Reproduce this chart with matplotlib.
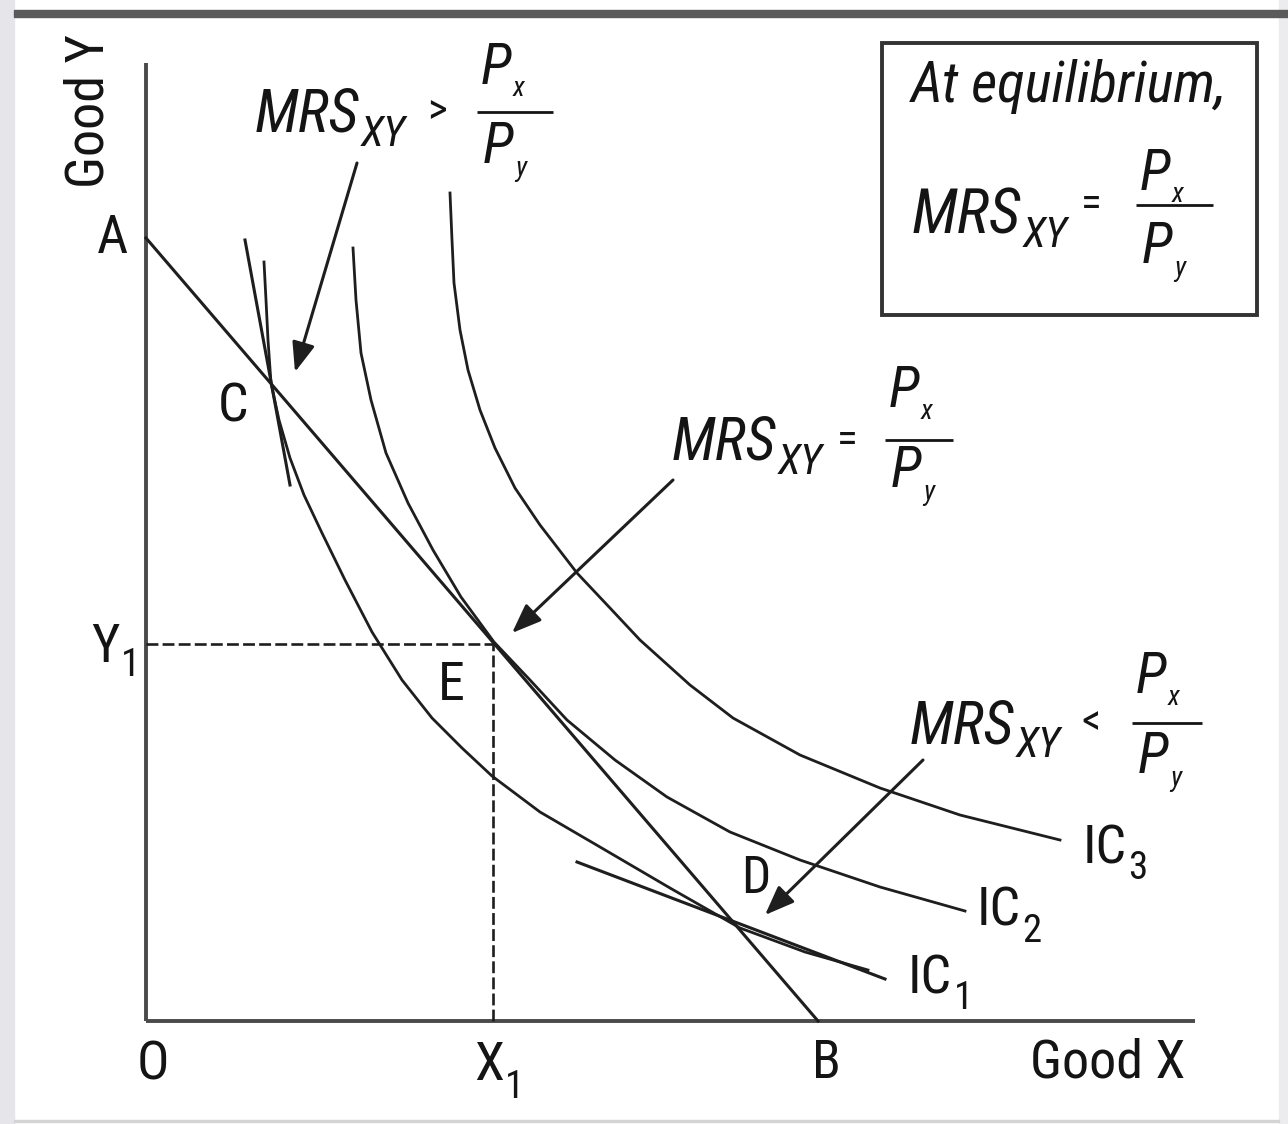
import os
import matplotlib
matplotlib.use("Agg")
import matplotlib.pyplot as plt
from matplotlib import font_manager
from matplotlib.font_manager import FontProperties
from matplotlib.textpath import TextPath
from matplotlib.patches import Rectangle

# ---------------- data (units of goods, origin at O) ----------------
budget_x = [0.0, 6.72]          # A on the Y axis, B on the X axis
budget_y = [7.83, 0.0]

ic1_x = [1.18, 1.20, 1.22, 1.25, 1.33, 1.44, 1.58, 1.76, 1.99, 2.26, 2.56,
         2.86, 3.16, 3.46, 3.94, 4.54, 5.24, 5.94, 6.59, 7.22]
ic1_y = [7.59, 7.21, 6.81, 6.38, 6.01, 5.63, 5.26, 4.88, 4.41, 3.89, 3.41,
         3.03, 2.73, 2.45, 2.09, 1.74, 1.33, 0.93, 0.69, 0.51]

ic2_x = [2.07, 2.10, 2.15, 2.25, 2.40, 2.62, 2.87, 3.15, 3.48, 3.84, 4.21,
         4.69, 5.21, 5.84, 6.54, 7.34, 8.19]
ic2_y = [7.73, 7.21, 6.68, 6.21, 5.68, 5.18, 4.71, 4.24, 3.79, 3.41, 3.01,
         2.61, 2.24, 1.89, 1.61, 1.34, 1.10]

ic3_x = [3.04, 3.06, 3.08, 3.14, 3.22, 3.34, 3.49, 3.69, 3.94, 4.31, 4.64,
         4.94, 5.44, 5.87, 6.54, 7.34, 8.14, 9.14]
ic3_y = [8.28, 7.81, 7.38, 6.91, 6.51, 6.11, 5.73, 5.33, 4.96, 4.48, 4.13,
         3.81, 3.36, 3.03, 2.66, 2.33, 2.06, 1.81]

tangent_c_x = [0.99, 1.44]
tangent_c_y = [7.81, 5.36]
tangent_d_x = [4.31, 7.39]
tangent_d_y = [1.59, 0.42]

x1_value = 3.47
y1_value = 3.77
x_axis_end = 10.49
y_axis_end = 9.58

arrow_tails = [(2.11, 8.58), (5.27, 5.41), (7.77, 2.61)]
arrow_heads = [(1.49, 6.49), (3.66, 3.88), (6.19, 1.06)]

ic_names = ['1', '2', '3']

# ---------------- fonts: prefer a narrow sans like the reference ----------------
_files = {}
for _f in font_manager.fontManager.ttflist:
    _files.setdefault(os.path.basename(_f.fname).lower(), _f.fname)


def _pick(prefixes):
    for p in prefixes:
        for k in sorted(_files):
            if k.startswith(p):
                return _files[k]
    return None


REG = _pick(['liberationsansnarrow-regular', 'arialn.', 'robotocondensed-regular',
             'roboto_condensed-regular', 'dejavusanscondensed.'])
ITA = _pick(['liberationsansnarrow-italic', 'arialni', 'robotocondensed-italic',
             'roboto_condensed-italic', 'dejavusanscondensed-oblique'])


def fprop(size, italic=False):
    path = ITA if italic else REG
    if path is not None:
        return FontProperties(fname=path, size=size)
    return FontProperties(family=['Liberation Sans', 'DejaVu Sans'],
                          style='italic' if italic else 'normal', size=size)


# width-fit factor: "Good X" spans about 160 px at 39 pt in the reference
_w = TextPath((0, 0), 'Good X', size=39 * 100 / 72, prop=fprop(39)).get_extents().width
FIT = max(0.80, min(1.0, 158.0 / _w))

INK = '#141414'
LINE = '#1e1e1e'

W, H = 1288, 1124
fig = plt.figure(figsize=(W / 100, H / 100), dpi=100)
fig.patch.set_facecolor('white')
ax = fig.add_axes([0, 0, 1, 1])
# 1 unit = 100 px, origin O at pixel (146, 1021)
ax.set_xlim(-1.46, (W - 146) / 100)
ax.set_ylim(-(H - 1021) / 100, 10.21)
ax.axis('off')


def P(xp, yp):
    """layout pixel position -> data coordinates"""
    return (xp - 146) / 100.0, (1021 - yp) / 100.0


def T(s, xp, yp, size, italic=False, ha='left', va='baseline', **kw):
    x, y = P(xp, yp)
    return ax.text(x, y, s, fontproperties=fprop(size * FIT, italic),
                   ha=ha, va=va, color=INK, **kw)


def SUB(parent, s, yp, size, italic=False, dx=1.0):
    """subscript placed right after `parent`, baseline at layout pixel y"""
    _, y = P(0, yp)
    return ax.annotate(s, xy=(1.0, y), xycoords=(parent, 'data'),
                       xytext=(dx, 0), textcoords='offset points',
                       ha='left', va='baseline', color=INK,
                       fontproperties=fprop(size * FIT, italic))


# ---------------- page frame ----------------
fig.patches.append(Rectangle((0, 0), 14 / W, 1, transform=fig.transFigure,
                             color='#e6e6ea', zorder=0))
fig.patches.append(Rectangle((1279 / W, 0), 9 / W, 1, transform=fig.transFigure,
                             color='#ececef', zorder=0))
fig.patches.append(Rectangle((14 / W, 1 - 17 / H), 1 - 14 / W, 7 / H,
                             transform=fig.transFigure, color='#5a5a5a', zorder=1))
fig.patches.append(Rectangle((14 / W, 1 - 1122 / H), 1265 / W, 2 / H,
                             transform=fig.transFigure, color='#d4d4d4', zorder=1))

# ---------------- axes lines ----------------
ax.plot([0, 0], [0, y_axis_end], color='#4a4a4a', lw=2.8, solid_capstyle='butt')
ax.plot([0, x_axis_end], [0, 0], color='#4a4a4a', lw=2.8, solid_capstyle='butt')

# dashed guides to E
ax.plot([0, x1_value], [y1_value, y1_value], color=LINE, lw=1.9, dashes=(4.5, 1.6))
ax.plot([x1_value, x1_value], [0, y1_value], color=LINE, lw=1.9, dashes=(4.5, 1.6))

# budget line and indifference curves
ax.plot(budget_x, budget_y, color=LINE, lw=2.2)
for xs, ys in [(ic1_x, ic1_y), (ic2_x, ic2_y), (ic3_x, ic3_y)]:
    ax.plot(xs, ys, color=LINE, lw=2.0, solid_joinstyle='round')
ax.plot(tangent_c_x, tangent_c_y, color=LINE, lw=2.2)
ax.plot(tangent_d_x, tangent_d_y, color=LINE, lw=2.2)

# arrows
for (tx, ty), (hx, hy) in zip(arrow_tails, arrow_heads):
    ax.annotate('', xy=(hx, hy), xytext=(tx, ty),
                arrowprops=dict(arrowstyle='-|>,head_length=0.9,head_width=0.35',
                                color=LINE, lw=2.2, mutation_scale=20,
                                shrinkA=0, shrinkB=0))

# ---------------- labels ----------------
T('Good Y', 89, 111, 39, ha='center', va='center', rotation=90)
T('A', 97, 253, 39)
T('C', 218, 421, 39)
T('E', 438, 700, 39)
T('D', 741, 893, 37)
T('B', 812, 1078, 38)
T('O', 137, 1079, 39)
T('Good X', 1030, 1078, 39)
t = T('Y', 91, 662, 39)
SUB(t, '1', 676, 28, dx=1)
t = T('X', 474, 1080, 39)
SUB(t, '1', 1098, 28, dx=1)

for name, (xp, yp) in zip(ic_names, [(908, 993), (977, 926), (1083, 863)]):
    t = T('IC', xp, yp, 39)
    SUB(t, name, yp + 16, 28, dx=1)


def mrs_block(x_mrs, base, op, x_op, frac_x0, frac_x1, bar_y, top_base, bot_base,
              size=43):
    m = T('MRS', x_mrs, base, size, italic=True)
    SUB(m, 'XY', base + 14, 31, italic=True, dx=1)
    T(op, x_op, bar_y, 31, va='center')
    xb0, yb = P(frac_x0, bar_y)
    xb1, _ = P(frac_x1, bar_y)
    ax.plot([xb0, xb1], [yb, yb], color=INK, lw=2.0, solid_capstyle='butt')
    p1 = T('P', frac_x0 + 4, top_base, 41, italic=True)
    SUB(p1, 'x', top_base + 12, 20, italic=True, dx=1)
    p2 = T('P', frac_x0 + 6, bot_base, 41, italic=True)
    SUB(p2, 'y', bot_base + 13, 20, italic=True, dx=1)


# top-left: MRS > Px/Py
mrs_block(255, 132, '>', 427, 477, 553, 112, 84, 163)
# middle: MRS = Px/Py
mrs_block(672, 460, '=', 837, 885, 953, 440, 407, 487)
# lower right: MRS < Px/Py
mrs_block(910, 743, '<', 1081, 1132, 1202, 723, 693, 773)

# equilibrium box
bx0, by1 = P(882, 43)
bx1, by0 = P(1257, 315)
ax.add_patch(Rectangle((bx0, by0), bx1 - bx0, by1 - by0, fill=False,
                       edgecolor='#333333', lw=2.8))
T('At equilibrium,', 911, 102, 41, italic=True)
mrs_block(912, 233, '=', 1081, 1136, 1213, 205, 190, 263, size=45)

fig.savefig('out.png', dpi=100, facecolor='white')
